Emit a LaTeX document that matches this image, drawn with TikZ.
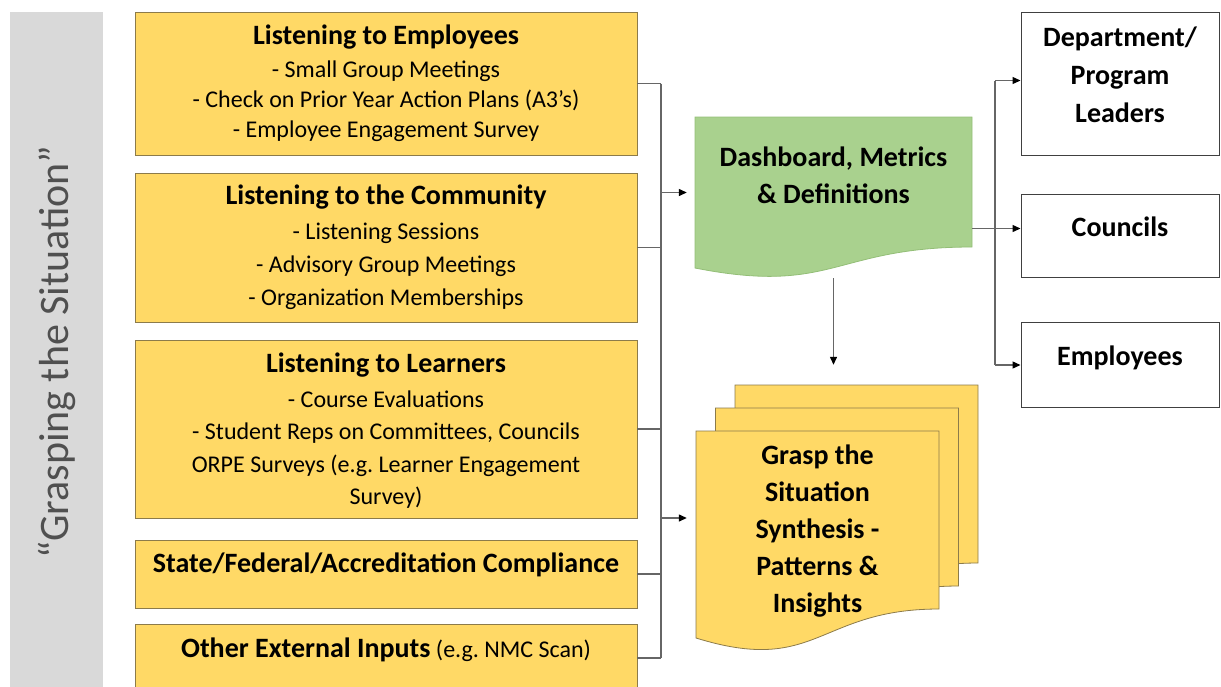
\documentclass[tikz,border=0pt]{standalone}
\usepackage{fontspec}
\setmainfont{Carlito}
\usetikzlibrary{arrows.meta}
\frenchspacing
\definecolor{padgold}{HTML}{FFD966}
\definecolor{padedge}{HTML}{8C7B4A}
\definecolor{dashgreen}{HTML}{A9D18E}
\definecolor{dashedge}{HTML}{93BE77}
\definecolor{bargrey}{HTML}{D9D9D9}
\definecolor{wiregrey}{HTML}{666666}
\definecolor{inkgrey}{HTML}{505050}
\def\docshape[#1](#2,#3)(#4,#5)(#6){\draw[#1] ({#2},{#3}) -- ({#4},{#3}) -- ({#4},{#5}) .. controls ({(#2+#4)/2},{#5}) and ({(#2+#4)/2},{#5+2.3*#6}) .. ({#2},{#5+#6}) -- cycle;}
\newcommand\boxhead[1]{{\bfseries\fontsize{28}{34}\selectfont #1}}
\tikzset{
  inbox/.style={draw=padedge, fill=padgold, line width=0.8pt, minimum width=502pt, inner sep=0pt, align=center, font=\fontsize{24}{30}\selectfont},
  outbox/.style={draw=black!75, fill=white, line width=1pt, minimum width=198pt, inner sep=0pt, text depth=18pt, align=center, font=\bfseries\fontsize{28}{38}\selectfont},
  doctext/.style={inner sep=0pt, align=center, font=\bfseries\fontsize{28}{37}\selectfont},
  dashdoc/.style={draw=dashedge, fill=dashgreen, line width=0.8pt},
  pagedoc/.style={draw=padedge, fill=padgold, line width=0.8pt},
  wire/.style={draw=wiregrey, line width=1.3pt},
  feed/.style={wire, -{Triangle[length=8pt,width=7pt,color=black]}}
}
\begin{document}
\begin{tikzpicture}[x=1pt,y=-1pt]
  \useasboundingbox (0,0) rectangle (1221,686);

  % side banner
  \fill[bargrey] (10,12) rectangle (103,700);
  \node[rotate=90, text=inkgrey, font=\fontsize{42}{50}\selectfont] (banner) at (57,352) {“Grasping the Situation”};

  % inputs
  \node[inbox, minimum height=143pt] (emp) at (386,83.5) {\boxhead{Listening to Employees}\\[3pt] - Small Group Meetings\\ - Check on Prior Year Action Plans (A3’s)\\ - Employee Engagement Survey};
  \node[inbox, minimum height=149pt, font=\fontsize{24}{33}\selectfont] (com) at (386,247.5) {\boxhead{Listening to the Community}\\[2pt] - Listening Sessions\\ - Advisory Group Meetings\\ - Organization Memberships};
  \node[inbox, minimum height=178pt, text depth=-2pt, font=\fontsize{24}{32.5}\selectfont] (lrn) at (386,429) {\boxhead{Listening to Learners}\\[2pt] - Course Evaluations\\ - Student Reps on Committees, Councils\\ ORPE Surveys (e.g. Learner Engagement\\ Survey)};
  \node[inbox, minimum height=68pt, text depth=22pt] (cmp) at (386,574) {\boxhead{State/Federal/Accreditation Compliance}};
  \node[inbox, minimum height=68pt, text depth=20pt] (ext) at (386,658) {\boxhead{Other External Inputs} (e.g. NMC Scan)};

  % outputs
  \node[outbox, minimum height=143pt] (dept) at (1120,83.5) {Department/\\Program\\Leaders};
  \node[outbox, minimum height=83pt] (councils) at (1120,235.5) {Councils};
  \node[outbox, minimum height=85pt] (staff) at (1120,365) {Employees};

  % documents
  \docshape[dashdoc](695,117)(972,247)(21)
  \node[doctext, minimum width=277pt, minimum height=151pt, text depth=34pt] (dash) at (833.5,192.5) {Dashboard, Metrics\\\& Definitions};
  \foreach \s in {2,1,0} {\docshape[pagedoc](696+19.5*\s,431-23*\s)(939+19.5*\s,609-23*\s)(29)}
  \node[doctext, minimum width=243pt, minimum height=178pt] (grasp) at (817.5,531) {Grasp the\\Situation\\Synthesis -\\Patterns \&\\Insights};

  % connectors
  \coordinate (inbus) at (661,0);
  \coordinate (outbus) at (995,0);
  \coordinate (stacktop) at (dash.south |- grasp.north);
  \foreach \n in {emp,com,lrn,cmp,ext} {\draw[wire] (\n.east) -- (\n.east -| inbus);}
  \draw[wire] (emp.east -| inbus) -- (ext.east -| inbus);
  \draw[feed] (dash.west -| inbus) -- ([xshift=-8pt]dash.west);
  \draw[feed] ([yshift=13pt]grasp.west -| inbus) -- ([xshift=-9pt,yshift=13pt]grasp.west);
  \draw[feed] ([yshift=-10pt]dash.south) -- ([yshift=77pt]stacktop);
  \draw[wire] ([yshift=3pt]dept.west -| outbus) -- (staff.west -| outbus);
  \draw[feed] ([yshift=3pt]dept.west -| outbus) -- ([yshift=3pt]dept.west);
  \draw[feed] (staff.west -| outbus) -- (staff.west);
  \draw[feed] ([yshift=7pt]councils.west -| dash.east) -- ([yshift=7pt]councils.west);
\end{tikzpicture}
\end{document}
